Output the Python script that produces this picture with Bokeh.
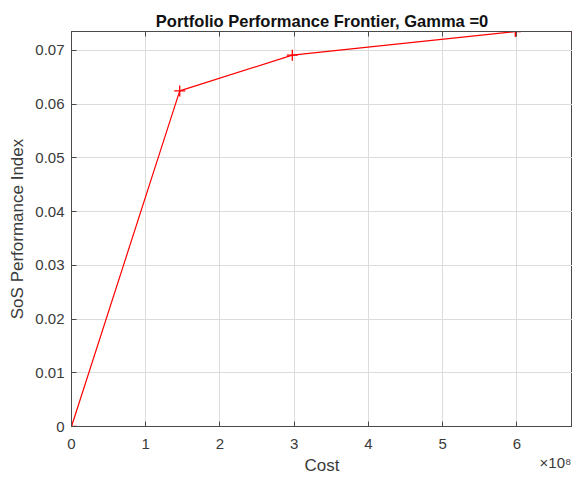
from bokeh.plotting import figure
from bokeh.models import (Range1d, FixedTicker, CustomJSTickFormatter, LinearAxis)
from bokeh.embed import file_html
from bokeh.resources import INLINE

# data (cost in units of 1e8)
cost = [0.0, 1.458, 2.975, 5.98, 6.80]
perf = [0.0, 0.06245, 0.0691, 0.0735, 0.0735]
x_ticks = [0, 1, 2, 3, 4, 5, 6]
y_ticks = [0, 0.01, 0.02, 0.03, 0.04, 0.05, 0.06, 0.07]
exponent_text = "\u00d710\u2078"

FONT = "Liberation Sans"
TXT = "#3a3a3a"
AX = "#4a4a4a"

p = figure(width=572, height=477, output_backend="svg", toolbar_location=None,
           x_range=Range1d(0, 6.75), y_range=Range1d(0, 0.0735),
           min_border_left=71, min_border_right=0, min_border_top=31,
           min_border_bottom=48, x_axis_location=None)
p.title.text = "Portfolio Performance Frontier, Gamma =0"
p.title.text_font = FONT
p.title.text_font_size = "16.5px"
p.title.text_font_style = "bold"
p.title.text_color = "#111111"
p.title.align = "center"
p.title.standoff = 3

xaxis = LinearAxis(ticker=FixedTicker(ticks=x_ticks))
p.add_layout(xaxis, "below")
top = LinearAxis(ticker=FixedTicker(ticks=x_ticks),
                 formatter=CustomJSTickFormatter(code="return ''"))
p.add_layout(top, "above")

for ax in [xaxis, top, p.yaxis[0]]:
    ax.axis_line_color = AX
    ax.axis_line_width = 1
    ax.major_tick_line_color = AX
    ax.major_tick_in = 5
    ax.major_tick_out = 0
    ax.minor_tick_line_color = None
    ax.major_label_text_font = FONT
    ax.major_label_text_font_size = "15px"
    ax.major_label_text_color = TXT
    ax.axis_label_text_font = FONT
    ax.axis_label_text_font_size = "17px"
    ax.axis_label_text_font_style = "normal"
    ax.axis_label_text_color = TXT

top.major_label_text_font_size = "1px"
top.major_label_standoff = 0

xaxis.axis_label = "Cost"
xaxis.major_label_standoff = 12
xaxis.axis_label_standoff = 4

# exponent label placed as a second (label-only) x axis
expo = LinearAxis(ticker=FixedTicker(ticks=[6.52]),
                  formatter=CustomJSTickFormatter(code="return '%s'" % exponent_text))
expo.axis_line_color = None
expo.major_tick_line_color = None
expo.minor_tick_line_color = None
expo.major_label_text_font = FONT
expo.major_label_text_font_size = "15px"
expo.major_label_text_color = TXT
expo.major_label_standoff = -30
p.add_layout(expo, "below")

yax = p.yaxis[0]
yax.ticker = FixedTicker(ticks=y_ticks)
yax.formatter = CustomJSTickFormatter(code="return tick == 0 ? '0' : tick.toFixed(2)")
yax.axis_label = "SoS Performance Index"
yax.major_label_standoff = 7
yax.axis_label_standoff = 5

p.xgrid.ticker = FixedTicker(ticks=x_ticks)
p.ygrid.ticker = FixedTicker(ticks=y_ticks)
p.grid.grid_line_color = "#dcdcdc"
p.grid.grid_line_width = 1
p.outline_line_color = AX
p.background_fill_color = "white"
p.border_fill_color = "white"

p.line(cost, perf, line_color="#ff0000", line_width=1.2)
p.scatter(cost, perf, marker="cross", size=11, line_color="#ff0000", line_width=1.3)

open("out.html", "w").write(file_html(p, INLINE))
